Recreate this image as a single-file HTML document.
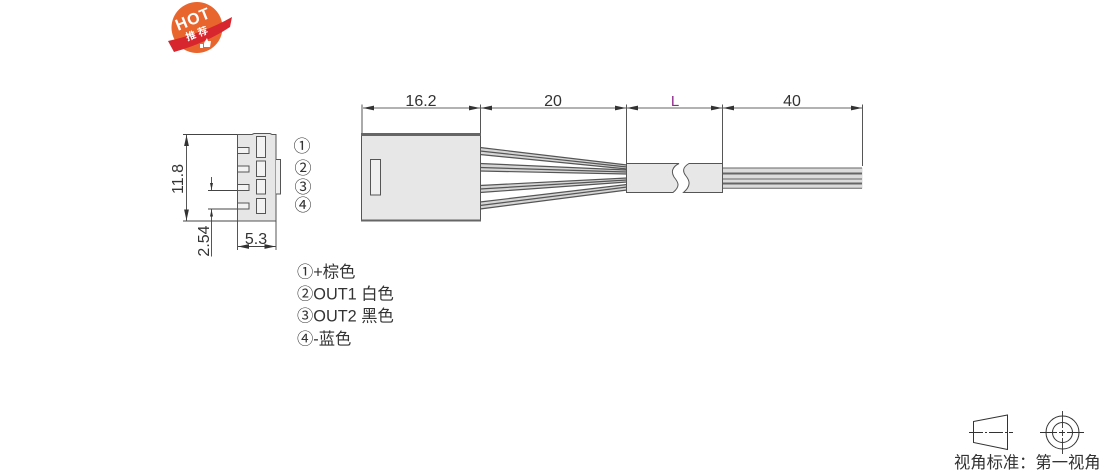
<!DOCTYPE html>
<html><head><meta charset="utf-8"><style>
html,body{margin:0;padding:0;background:#fff}
svg{display:block}
text{font-family:"Liberation Sans","Noto Sans CJK SC",sans-serif;fill:#333}
</style></head><body>
<svg width="1110" height="473" viewBox="0 0 1110 473" xmlns="http://www.w3.org/2000/svg">
<defs>
<marker id="a" markerWidth="12" markerHeight="6" refX="11" refY="3" orient="auto-start-reverse" markerUnits="userSpaceOnUse"><path d="M0 .6L11 3L0 5.400z" fill="#333"/></marker>
</defs>
<!-- badge -->
<circle cx="197" cy="27.500" r="25.500" fill="#e9652e"/>
<path d="M168 41Q204 33 232 17L230 27Q206 43 174 52Z" fill="#d8262f"/>
<text x="195" y="24" font-size="16" text-anchor="middle" letter-spacing="1" transform="rotate(-22 195 24)" style="fill:#fff;font-weight:bold">HOT</text>
<text x="198" y="37" font-size="10" font-weight="bold" text-anchor="middle" transform="rotate(-20 198 37)" style="fill:#fff">推 荐</text>
<path d="M200 44h3v4h-3zM204 43l3-5 1 3h3l-1 6h-6z" fill="#fff"/>

<!-- side view -->
<g stroke="#555" fill="none" stroke-width="1">
<path d="M237.500 134.500H252L254 133.500H270L272 134.500H276V221H237.500Z" fill="#e6e6e6"/>
<path d="M276 159.500H280.500V194H276" fill="#efefef"/>
<g fill="#f2f2f2">
<rect x="237.500" y="147.500" width="11.500" height="6"/>
<rect x="237.500" y="166" width="11.500" height="6"/>
<rect x="237.500" y="184.500" width="11.500" height="6"/>
<rect x="237.500" y="203" width="11.500" height="6"/>
<rect x="256.500" y="136.500" width="9" height="21"/>
<rect x="256.500" y="161" width="9" height="15.500"/>
<rect x="256.500" y="179.500" width="9" height="14.500"/>
<rect x="256.500" y="198.500" width="9" height="15"/>
</g>
</g>
<g stroke="#444" stroke-width=".9" fill="none">
<path d="M183 134.500H237M183 221H237"/>
<path d="M186.500 135V220.500" marker-start="url(#a)" marker-end="url(#a)"/>
<path d="M208 190.500H237M208 209H237"/>
<path d="M211.500 177V190M211.500 209.500V256.500"/>
<path d="M237.500 221V250M276 221V250"/>
<path d="M238 246.500H275.500" marker-start="url(#a)" marker-end="url(#a)"/>
</g>
<path d="M211.500 190L210 183H213ZM211.500 209.500L210 216.500H213Z" fill="#333"/>
<text x="183" y="179" font-size="16" text-anchor="middle" transform="rotate(-90 183 179)">11.8</text>
<text x="209" y="241" font-size="16" text-anchor="middle" transform="rotate(-90 209 241)">2.54</text>
<text x="256" y="244" font-size="16" text-anchor="middle">5.3</text>
<g font-size="17" text-anchor="middle">
<text x="302" y="152">①</text><text x="303" y="174">②</text><text x="303" y="193">③</text><text x="303" y="211">④</text>
</g>

<!-- wires -->
<g fill="#d6d6d6">
<path d="M480 147L627 165V169L480 155Z"/>
<path d="M480 163L627 170V174L480 171Z"/>
<path d="M480 185L627 178V182L480 193Z"/>
<path d="M480 202L627 184.500V190L480 209.500Z"/>
</g>
<g stroke="#555" stroke-width="1.200" fill="none">
<path d="M480 147.500L627 165M480 151L627 167M480 154.500L627 169"/>
<path d="M480 163.500L627 170M480 167.500L627 172M480 171L627 174"/>
<path d="M480 185.500L627 178M480 189L627 180M480 192.500L627 182"/>
<path d="M480 202L627 184.500M480 205.500L627 187M480 209L627 190"/>
</g>
<!-- main body -->
<rect x="361.500" y="133.500" width="119" height="87.500" fill="#e7e7e8" stroke="#555" stroke-width="1"/>
<rect x="361" y="133" width="120" height="3" fill="#666"/>
<rect x="361" y="219.500" width="120" height="2" fill="#666"/>
<rect x="370.500" y="159.500" width="10" height="35.500" fill="#efefef" stroke="#555"/>
<!-- right wires -->
<rect x="723" y="168" width="139.500" height="20.500" fill="#dcdcdc"/>
<g stroke="#666" fill="none">
<path d="M723 168H862" stroke-width="1"/><path d="M723 173.500H862" stroke-width="2"/><path d="M723 179H862" stroke-width="1"/><path d="M723 183.500H862" stroke-width="2"/><path d="M723 188.300H862" stroke-width="1"/>
</g>
<!-- sleeve -->
<path d="M679 163.500H626.500V192.500H673C681 186 678 182 674 177C671 172 672 167 679 163.500Z" fill="#e7e7e8" stroke="#555"/>
<path d="M689 163.500H722.500V192.500H683.500C691 186 690 181 686 176C682 171 683 167 689 163.500Z" fill="#e7e7e8" stroke="#555"/>
<!-- top dims -->
<g stroke="#444" stroke-width=".9" fill="none">
<path d="M362 104.500V133M480.500 104.500V133M626.500 104.500V163M722.500 104.500V163M862.500 104.500V166" />
</g>
<g stroke="#666" stroke-width="1.100" fill="none">
<path d="M363 108H480" marker-start="url(#a)" marker-end="url(#a)"/>
<path d="M481 108H626" marker-start="url(#a)" marker-end="url(#a)"/>
<path d="M627 108H722" marker-start="url(#a)" marker-end="url(#a)"/>
<path d="M723 108H862" marker-start="url(#a)" marker-end="url(#a)"/>
</g>
<g font-size="16" text-anchor="middle">
<text x="421" y="106">16.2</text><text x="553" y="106">20</text><text x="675" y="106" font-size="15" style="fill:#8e2a8c">L</text><text x="792" y="106">40</text>
</g>
<!-- list -->
<g font-size="16.300">
<text x="297" y="277.500">①+棕色</text>
<text x="297" y="299.500">②OUT1 白色</text>
<text x="297" y="321.500">③OUT2 黑色</text>
<text x="297" y="344.500">④-蓝色</text>
</g>
<!-- view symbol -->
<g stroke="#333" fill="none" stroke-width="1">
<path d="M973.500 421.500L1007.500 415V449.500L973.500 442.500Z"/>
<path d="M969 432.500H1013" stroke-dasharray="14 2 2 2"/>
<circle cx="1062.500" cy="432.500" r="16.500"/>
<circle cx="1062.500" cy="432.500" r="10"/>
<path d="M1040 432.500H1085M1062.500 411V454" stroke-dasharray="17 2 6 2" stroke-width=".9"/>
</g>
<text x="954" y="468" font-size="16.300">视角标准：第一视角</text>
</svg>
</body></html>
